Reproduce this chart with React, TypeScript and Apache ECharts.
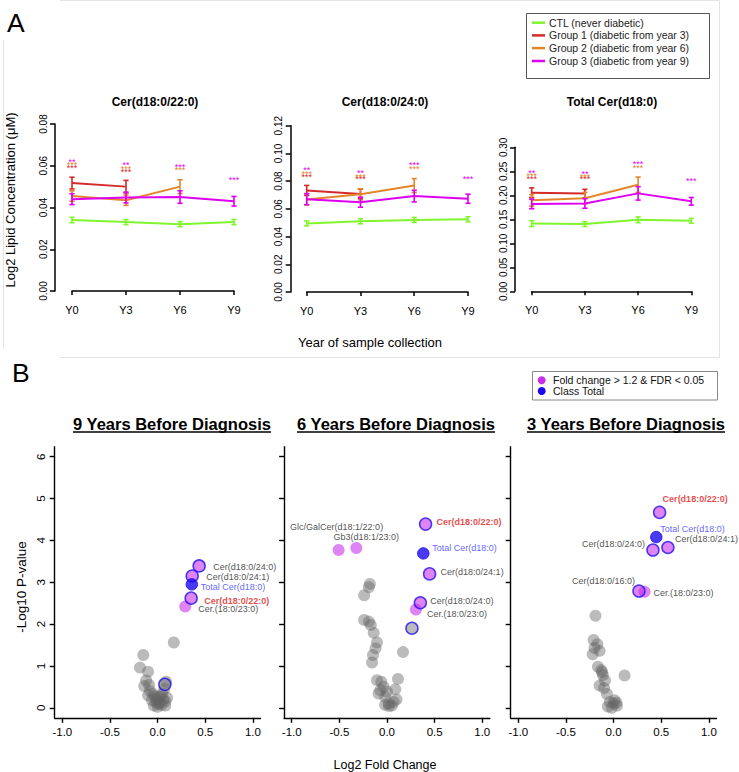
import React, { useEffect, useRef } from 'react';
import * as echarts from 'echarts';

const FONT = "'Liberation Sans', Arial, Helvetica, sans-serif";

// ---------- Panel A data ----------
const years = ['Y0', 'Y3', 'Y6', 'Y9'];
const groupNames = [
  'CTL (never diabetic)',
  'Group 1 (diabetic from year 3)',
  'Group 2 (diabetic from year 6)',
  'Group 3 (diabetic from year 9)',
];
const groupColors = ['#80F52E', '#D42A2A', '#E3862B', '#DE00F2'];
const lineTitles = ['Cer(d18:0/22:0)', 'Cer(d18:0/24:0)', 'Total Cer(d18:0)'];
const yMaxes = [0.08, 0.12, 0.3];
const yIntervals = [0.02, 0.02, 0.05];

// means per group (CTL, G1, G2, G3) for each lipid
const cer22Means = [
  [0.034, 0.033, 0.032, 0.033],
  [0.0517, 0.05],
  [0.0455, 0.0435, 0.05],
  [0.044, 0.0448, 0.045, 0.043],
];
const cer22Errs = [
  [0.0013, 0.0012, 0.0012, 0.0012],
  [0.0028, 0.003],
  [0.0025, 0.0025, 0.0033],
  [0.0026, 0.0026, 0.003, 0.0023],
];
const cer24Means = [
  [0.0495, 0.051, 0.052, 0.0525],
  [0.0733, 0.0708],
  [0.0668, 0.0705, 0.0768],
  [0.067, 0.0648, 0.0692, 0.0673],
];
const cer24Errs = [
  [0.0018, 0.0018, 0.0018, 0.0018],
  [0.0036, 0.0035],
  [0.004, 0.004, 0.005],
  [0.004, 0.0036, 0.0042, 0.0033],
];
const totalMeans = [
  [0.141, 0.14, 0.149, 0.147],
  [0.2055, 0.2035],
  [0.1895, 0.194, 0.222],
  [0.182, 0.183, 0.204, 0.1875],
];
const totalErrs = [
  [0.006, 0.005, 0.006, 0.005],
  [0.01, 0.009],
  [0.012, 0.012, 0.016],
  [0.01, 0.01, 0.014, 0.008],
];
// significance stars: [group, yearIndex, y, text]
const cer22Stars = [
  [1, 0, 0.0599, '***'], [2, 0, 0.0613, '***'], [3, 0, 0.0628, '**'],
  [1, 1, 0.058, '***'], [2, 1, 0.0594, '***'], [3, 1, 0.0613, '**'],
  [2, 2, 0.0589, '***'], [3, 2, 0.0604, '***'],
  [3, 3, 0.0541, '***'],
];
const cer24Stars = [
  [1, 0, 0.0844, '***'], [2, 0, 0.0868, '***'], [3, 0, 0.0895, '**'],
  [1, 1, 0.083, '***'], [2, 1, 0.0847, '***'], [3, 1, 0.0876, '**'],
  [2, 2, 0.0904, '***'], [3, 2, 0.0933, '***'],
  [3, 3, 0.0828, '***'],
];
const totalStars = [
  [1, 0, 0.2375, '***'], [2, 0, 0.244, '***'], [3, 0, 0.251, '**'],
  [1, 1, 0.2375, '***'], [2, 1, 0.242, '***'], [3, 1, 0.249, '**'],
  [2, 2, 0.2617, '***'], [3, 2, 0.27, '***'],
  [3, 3, 0.234, '***'],
];

// ---------- Panel B data ----------
const volcanoTitles = ['9 Years Before Diagnosis', '6 Years Before Diagnosis', '3 Years Before Diagnosis'];
const foldTicks = [-1, -0.5, 0, 0.5, 1];
const pTicks = [0, 1, 2, 3, 4, 5, 6];

const v9Gray = [
  [0.17, 1.56], [-0.15, 1.26], [-0.185, 0.96], [-0.1, 0.86], [-0.12, 0.65], [-0.14, 0.52],
  [-0.09, 0.55], [0.09, 0.62], [0.07, 0.45], [-0.08, 0.4], [-0.05, 0.33], [-0.03, 0.28],
  [0.0, 0.24], [0.03, 0.27], [0.06, 0.2], [0.08, 0.15], [0.1, 0.24], [-0.06, 0.18],
  [-0.02, 0.14], [0.01, 0.09], [0.04, 0.07], [-0.04, 0.05], [0.0, 0.02], [0.02, 0.12],
  [-0.01, 0.19], [0.05, 0.33], [-0.1, 0.3], [0.08, 0.05],
];
const v9ClassGray = [[0.076, 0.56]];
const v9Sig = [['Cer.(18:0/23:0)', 0.29, 2.42]];
const v9SigClass = [
  ['Cer(d18:0/24:0)', 0.436, 3.39],
  ['Cer(d18:0/24:1)', 0.363, 3.15],
  ['Cer(d18:0/22:0)', 0.352, 2.62],
];
const v9Total = [['Total Cer(d18:0)', 0.359, 2.95]];

const v6Gray = [
  [-0.18, 2.96], [-0.19, 2.88], [-0.24, 2.69], [-0.24, 2.1], [-0.19, 2.06], [-0.17, 1.98],
  [-0.14, 1.79], [-0.105, 1.56], [-0.12, 1.42], [-0.147, 1.26], [-0.157, 1.08], [0.168, 1.33],
  [-0.105, 0.66], [0.115, 0.69], [-0.035, 0.5], [0.087, 0.44], [-0.088, 0.34], [-0.018, 0.26],
  [0.017, 0.1], [0.07, 0.14], [0.1, 0.2], [0.02, 0.04], [-0.02, 0.07], [0.05, 0.05],
  [-0.07, 0.42], [0.0, 0.38], [-0.06, 0.62],
];
const v6ClassGray = [[0.262, 1.9]];
const v6Sig = [
  ['Glc/GalCer(d18:1/22:0)', -0.508, 3.77],
  ['Gb3(d18:1/23:0)', -0.322, 3.82],
  ['Cer.(18:0/23:0)', 0.304, 2.35],
];
const v6SigClass = [
  ['Cer(d18:0/22:0)', 0.405, 4.39],
  ['Cer(d18:0/24:1)', 0.447, 3.2],
  ['Cer(d18:0/24:0)', 0.35, 2.51],
];
const v6Total = [['Total Cer(d18:0)', 0.381, 3.69]];

const v3Gray = [
  [-0.19, 2.2], [-0.21, 1.62], [-0.17, 1.52], [-0.2, 1.43], [-0.147, 1.36], [-0.22, 1.28],
  [-0.165, 0.98], [-0.13, 0.9], [-0.112, 0.78], [0.115, 0.77], [-0.147, 0.53], [-0.1, 0.47],
  [-0.09, 0.65], [-0.04, 0.14], [0.0, 0.1], [0.035, 0.05], [-0.06, 0.03], [-0.02, 0.0],
  [0.01, 0.18], [-0.07, 0.33], [0.03, 0.12], [-0.12, 0.85],
];
const v3ClassGray: number[][] = [];
const v3Sig = [['Cer.(18:0/23:0)', 0.325, 2.77]];
const v3SigClass = [
  ['Cer(d18:0/22:0)', 0.483, 4.67],
  ['Cer(d18:0/24:0)', 0.413, 3.77],
  ['Cer(d18:0/24:1)', 0.57, 3.83],
  ['Cer(d18:0/16:0)', 0.266, 2.79],
];
const v3Total = [['Total Cer(d18:0)', 0.448, 4.08]];

// label placement (style): [dx, dy, align]
const labelPlace: Record<string, [number, number, string]> = {
  '0|Cer(d18:0/24:0)': [14, 1, 'left'],
  '0|Cer(d18:0/24:1)': [14, 1, 'left'],
  '0|Total Cer(d18:0)': [9, 2.5, 'left'],
  '0|Cer(d18:0/22:0)': [13, 2.5, 'left'],
  '0|Cer.(18:0/23:0)': [13, 2.5, 'left'],
  '1|Cer(d18:0/22:0)': [11, -2, 'left'],
  '1|Total Cer(d18:0)': [9, -5, 'left'],
  '1|Cer(d18:0/24:1)': [11, -2, 'left'],
  '1|Cer(d18:0/24:0)': [10, -2, 'left'],
  '1|Cer.(18:0/23:0)': [11, 5, 'left'],
  '1|Glc/GalCer(d18:1/22:0)': [-2, -23, 'center'],
  '1|Gb3(d18:1/23:0)': [10, -11, 'center'],
  '2|Cer(d18:0/22:0)': [3, -13, 'left'],
  '2|Total Cer(d18:0)': [4, -8, 'left'],
  '2|Cer(d18:0/24:0)': [-8, -6, 'right'],
  '2|Cer(d18:0/24:1)': [7, -9, 'left'],
  '2|Cer(d18:0/16:0)': [-4, -10, 'right'],
  '2|Cer.(18:0/23:0)': [9, 1, 'left'],
};

const GRAY = 'rgba(100,100,100,0.55)';
const MAGENTA = 'rgba(196,36,236,0.7)';
const BLUE = '#2010EE';

function labelFor(panel: number, name: string) {
  const pl = labelPlace[panel + '|' + name] || [10, 0, 'left'];
  const isRed = name === 'Cer(d18:0/22:0)';
  const isBlue = name.startsWith('Total');
  return {
    show: true,
    formatter: '{b}',
    position: 'inside',
    align: pl[2],
    verticalAlign: 'middle',
    offset: [pl[0], pl[1]],
    color: isRed ? '#E01818' : isBlue ? '#3A3AFF' : '#222',
    fontWeight: isRed ? 'bold' : 'normal',
    fontSize: 9,
    fontFamily: FONT,
  };
}

function errRender(color: string) {
  return (params: any, api: any) => {
    const x = api.value(0);
    const p1 = api.coord([x, api.value(1)]);
    const p2 = api.coord([x, api.value(2)]);
    const w = 2.6;
    const st = { stroke: color, lineWidth: 1.6 };
    return {
      type: 'group',
      children: [
        { type: 'line', shape: { x1: p1[0], y1: p1[1], x2: p2[0], y2: p2[1] }, style: st },
        { type: 'line', shape: { x1: p1[0] - w, y1: p1[1], x2: p1[0] + w, y2: p1[1] }, style: st },
        { type: 'line', shape: { x1: p2[0] - w, y1: p2[1], x2: p2[0] + w, y2: p2[1] }, style: st },
      ],
    };
  };
}

export default function App() {
  const ref = useRef<HTMLDivElement>(null);

  useEffect(() => {
    document.body.style.margin = '0';
    if (!ref.current) return;
    const chart = echarts.init(ref.current, null, { renderer: 'svg' });

    const ctx = document.createElement('canvas').getContext('2d') as CanvasRenderingContext2D;
    ctx.font = 'bold 16.5px ' + FONT;

    const lineGrids = [
      { left: 72, top: 124, width: 162, height: 167, yOff: 17, xOff: 7 },
      { left: 306.7, top: 125.7, width: 161.3, height: 166.3, yOff: 16, xOff: 7 },
      { left: 531.7, top: 147.3, width: 159.6, height: 144, yOff: 16.7, xOff: 6.7 },
    ];
    const volGrids = [
      { left: 54.7, top: 446.7, width: 205.8, height: 271.1 },
      { left: 284.1, top: 446.7, width: 205.8, height: 271.1 },
      { left: 510.7, top: 446.7, width: 205.8, height: 271.1 },
    ];

    const grid: any[] = [];
    const xAxis: any[] = [];
    const yAxis: any[] = [];
    const series: any[] = [];
    const axisLineStyle = { color: '#000', width: 1.5 };

    const lineData = [
      [cer22Means, cer22Errs, cer22Stars],
      [cer24Means, cer24Errs, cer24Stars],
      [totalMeans, totalErrs, totalStars],
    ];

    lineGrids.forEach((g, i) => {
      grid.push({ left: g.left, top: g.top, width: g.width, height: g.height });
      xAxis.push({
        gridIndex: i, type: 'category', data: years, boundaryGap: false, offset: g.xOff,
        axisLine: { lineStyle: axisLineStyle },
        axisTick: { length: 4, lineStyle: axisLineStyle },
        axisLabel: { color: '#000', fontSize: 11, margin: 6, fontFamily: FONT },
        splitLine: { show: false },
      });
      yAxis.push({
        gridIndex: i, type: 'value', min: 0, max: yMaxes[i], interval: yIntervals[i], offset: g.yOff,
        axisLine: { show: true, lineStyle: axisLineStyle },
        axisTick: { show: true, length: 5, lineStyle: axisLineStyle },
        axisLabel: { color: '#000', fontSize: 10, rotate: 90, margin: 7, fontFamily: FONT, formatter: (v: number) => v.toFixed(2) },
        splitLine: { show: false },
      });
      const [means, errs, stars] = lineData[i] as any;
      (means as number[][]).forEach((m, gi) => {
        series.push({
          type: 'line', xAxisIndex: i, yAxisIndex: i, data: m, symbol: 'none', showSymbol: false,
          lineStyle: { color: groupColors[gi], width: 2 }, itemStyle: { color: groupColors[gi] },
          z: 2 + gi, silent: true,
        });
        series.push({
          type: 'custom', xAxisIndex: i, yAxisIndex: i, z: 2 + gi, silent: true,
          encode: { x: 0, y: [1, 2] },
          data: m.map((v, k) => [k, v - errs[gi][k], v + errs[gi][k]]),
          renderItem: errRender(groupColors[gi]),
        });
      });
      series.push({
        type: 'custom', xAxisIndex: i, yAxisIndex: i, z: 10, silent: true,
        encode: { x: 0, y: 1 },
        data: (stars as any[]).map((s) => [s[1], s[2]]),
        renderItem: (params: any, api: any) => {
          const s = (stars as any[])[params.dataIndex];
          const p = api.coord([api.value(0), api.value(1)]);
          return {
            type: 'text', x: p[0], y: p[1] + 2,
            style: { text: s[3], fill: groupColors[s[0]], fontSize: 9, fontFamily: FONT, align: 'center', verticalAlign: 'middle' },
          };
        },
      });
    });

    const volData = [
      [v9Gray, v9ClassGray, v9Sig, v9SigClass, v9Total],
      [v6Gray, v6ClassGray, v6Sig, v6SigClass, v6Total],
      [v3Gray, v3ClassGray, v3Sig, v3SigClass, v3Total],
    ];

    volGrids.forEach((g, k) => {
      const idx = 3 + k;
      grid.push({ left: g.left, top: g.top, width: g.width, height: g.height });
      xAxis.push({
        gridIndex: idx, type: 'value', min: -1.08, max: 1.08,
        axisLine: { show: true, onZero: false, lineStyle: { color: '#000', width: 1.4 } },
        axisTick: { show: true, length: 5, customValues: foldTicks, lineStyle: { color: '#000', width: 1.4 } },
        axisLabel: { color: '#000', fontSize: 11.5, margin: 8, fontFamily: FONT, customValues: foldTicks, formatter: (v: number) => v.toFixed(1) },
        splitLine: { show: false },
      });
      yAxis.push({
        gridIndex: idx, type: 'value', min: -0.24, max: 6.24,
        axisLine: { show: true, onZero: false, lineStyle: { color: '#000', width: 1.4 } },
        axisTick: { show: true, length: 5, customValues: pTicks, lineStyle: { color: '#000', width: 1.4 } },
        axisLabel: { show: k === 0, color: '#000', fontSize: 11.5, rotate: 90, margin: 8, fontFamily: FONT, customValues: pTicks, formatter: (v: number) => String(v) },
        splitLine: { show: false },
      });
      const [gray, classGray, sig, sigClass, total] = volData[k] as any[];
      const base = { type: 'scatter', xAxisIndex: idx, yAxisIndex: idx, symbol: 'circle', symbolSize: 12, silent: true, emphasis: { disabled: true } };
      series.push({ ...base, data: gray, itemStyle: { color: GRAY }, z: 2 });
      series.push({ ...base, data: classGray, itemStyle: { color: GRAY, borderColor: BLUE, borderWidth: 1.5 }, z: 3 });
      const named = (arr: any[]) => arr.map((d: any) => ({ name: d[0], value: [d[1], d[2]], label: labelFor(k, d[0]) }));
      series.push({ ...base, data: named(sig), itemStyle: { color: MAGENTA }, z: 4 });
      series.push({ ...base, data: named(sigClass), itemStyle: { color: MAGENTA, borderColor: BLUE, borderWidth: 1.5 }, z: 5 });
      series.push({ ...base, data: named(total), symbolSize: 11.5, itemStyle: { color: '#1A08F0', borderColor: BLUE, borderWidth: 1 }, z: 6 });
    });

    const graphic: any[] = [];
    const frame = { stroke: '#e4e4e4', lineWidth: 1 };
    graphic.push({ type: 'line', silent: true, shape: { x1: 60, y1: 0.5, x2: 719.5, y2: 0.5 }, style: frame });
    graphic.push({ type: 'line', silent: true, shape: { x1: 719.5, y1: 0.5, x2: 719.5, y2: 357.5 }, style: frame });
    graphic.push({ type: 'line', silent: true, shape: { x1: 60, y1: 357.5, x2: 719.5, y2: 357.5 }, style: frame });
    graphic.push({ type: 'line', silent: true, shape: { x1: 3.5, y1: 40, x2: 3.5, y2: 349 }, style: frame });

    const txt = (text: string, x: number, y: number, size: number, opts: any = {}) => ({
      type: 'text', x, y, rotation: opts.rotation || 0, silent: true,
      style: {
        text, fill: opts.fill || '#000', fontSize: size, fontFamily: FONT, fontWeight: opts.weight || 'normal',
        align: opts.align || 'center', verticalAlign: 'middle', textAlign: opts.align || 'center', textVerticalAlign: 'middle',
      },
    });

    graphic.push(txt('A', 7, 22.5, 26.5, { align: 'left' }));
    graphic.push(txt('B', 12, 373, 26.5, { align: 'left' }));

    // Legend A
    graphic.push({ type: 'rect', silent: true, shape: { x: 526.5, y: 13.5, width: 183, height: 65 }, style: { fill: '#fff', stroke: '#555', lineWidth: 1 } });
    const legYs = [22.7, 35.4, 48.1, 61];
    groupNames.forEach((n, i) => {
      graphic.push({ type: 'line', silent: true, shape: { x1: 532, y1: legYs[i], x2: 545, y2: legYs[i] }, style: { stroke: groupColors[i], lineWidth: 2.5 } });
      graphic.push(txt(n, 549, legYs[i], 10.5, { align: 'left', fill: '#222' }));
    });

    // Legend B
    graphic.push({ type: 'rect', silent: true, shape: { x: 532.5, y: 371.5, width: 185, height: 28.5 }, style: { fill: '#fff', stroke: '#888', lineWidth: 1 } });
    graphic.push({ type: 'circle', silent: true, shape: { cx: 541.7, cy: 380.3, r: 4 }, style: { fill: '#C92FE6' } });
    graphic.push({ type: 'circle', silent: true, shape: { cx: 541.7, cy: 391, r: 4 }, style: { fill: '#1A08F0' } });
    graphic.push(txt('Fold change > 1.2 & FDR < 0.05', 553, 380.3, 10.5, { align: 'left', fill: '#111' }));
    graphic.push(txt('Class Total', 553, 391, 10.5, { align: 'left', fill: '#111' }));

    // Titles
    const lineTitleX = [155, 385, 612];
    lineTitles.forEach((t, i) => graphic.push(txt(t, lineTitleX[i], 101.5, 12, { weight: 'bold' })));
    const volTitleX = [172, 396, 626];
    volcanoTitles.forEach((t, i) => {
      graphic.push(txt(t, volTitleX[i], 423.5, 16.5, { weight: 'bold' }));
      const w = ctx.measureText(t).width || 200;
      graphic.push({ type: 'line', silent: true, shape: { x1: volTitleX[i] - w / 2, y1: 432, x2: volTitleX[i] + w / 2, y2: 432 }, style: { stroke: '#000', lineWidth: 1.3 } });
    });

    // Axis names
    graphic.push(txt('Log2 Lipid Concentration (μM)', 10, 200, 13, { rotation: Math.PI / 2 }));
    graphic.push(txt('Year of sample collection', 370, 342, 13));
    graphic.push(txt('-Log10 P-value', 21, 587, 13.5, { rotation: Math.PI / 2 }));
    graphic.push(txt('Log2 Fold Change', 385, 765, 12.5));

    chart.setOption({
      animation: false,
      backgroundColor: '#fff',
      textStyle: { fontFamily: FONT },
      grid, xAxis, yAxis, series, graphic,
    });

    return () => chart.dispose();
  }, []);

  return <div ref={ref} style={{ width: 739, height: 772 }} />;
}
